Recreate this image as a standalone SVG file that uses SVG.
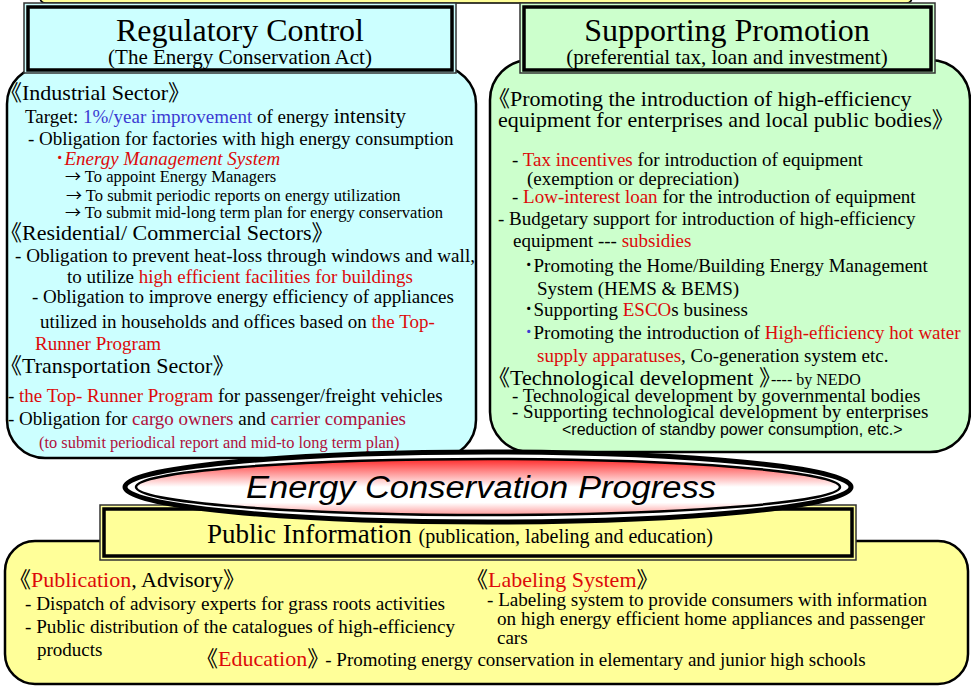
<svg xmlns="http://www.w3.org/2000/svg" width="971" height="687" viewBox="0 0 971 687">
  <defs>
    <linearGradient id="glow" x1="0" y1="0" x2="0" y2="1">
      <stop offset="0" stop-color="#FF2A2A"/>
      <stop offset="0.22" stop-color="#FF8A8A"/>
      <stop offset="0.5" stop-color="#FFFFFF"/>
      <stop offset="0.78" stop-color="#FFFFFF"/>
      <stop offset="1" stop-color="#FF9A9A"/>
    </linearGradient>
  </defs>
  <style>
    .t { font-family: "Liberation Serif", "Noto Sans CJK JP", serif; fill: #000; }
    .h { font-size: 22px; }
    .b { font-size: 19px; }
    .m { font-size: 16.5px; }
    .arr { font-family: "Noto Sans CJK JP", sans-serif; font-size: 16px; }
    .red { fill: #DD0A0A; }
    .crim { fill: #B0103C; }
    .blue { fill: #3B3BD2; }
    .box { stroke: #000; stroke-width: 2.5; }
    .hdr-out { stroke: #333; stroke-width: 1.5; }
    .hdr-in { stroke: #000; stroke-width: 3.5; fill: none; }
  </style>

  <rect width="971" height="687" fill="#FFFFFF"/>

  <!-- title strip along the top edge -->
  <g id="title-strip">
    <path d="M40,-20 H912 V-3 Q912,3 906,3 H46 Q40,3 40,-3 Z" fill="#FFFF99" stroke="#000" stroke-width="1.5"/>
  </g>

  <!-- Regulatory Control -->
  <g id="regulatory">
    <rect class="box" x="7" y="66" width="469" height="392" rx="38" fill="#CCFFFF"/>
    <rect class="hdr-out" x="24" y="3" width="432" height="70" fill="#CCFFFF"/>
    <rect class="hdr-in" x="28" y="7" width="424" height="63"/>
    <text class="t" x="240" y="41" font-size="32" text-anchor="middle">Regulatory Control</text>
    <text class="t" x="240" y="64" font-size="21" text-anchor="middle">(The Energy Conservation Act)</text>

    <text class="t h" x="0" y="100">《Industrial Sector》</text>
    <text class="t b" x="25" y="123">Target: <tspan class="blue">1%/year improvement</tspan> of energy <tspan font-size="21">intensity</tspan></text>
    <text class="t b" x="28" y="145">- Obligation for factories with high energy consumption</text>
    <text class="t b red" x="55" y="165">･<tspan font-style="italic">Energy Management System</tspan></text>
    <text class="t m" x="65" y="182"><tspan class="arr">→</tspan> To appoint Energy Managers</text>
    <text class="t m" x="66" y="201"><tspan class="arr">→</tspan> To submit periodic reports on energy utilization</text>
    <text class="t m" x="65" y="218"><tspan class="arr">→</tspan> To submit mid-long term plan for energy conservation</text>

    <text class="t h" x="0" y="240">《Residential/ Commercial Sectors》</text>
    <text class="t b" x="15" y="262" textLength="460" lengthAdjust="spacingAndGlyphs">- Obligation to prevent heat-loss through windows and wall,</text>
    <text class="t b" x="67" y="283">to utilize <tspan class="red">high efficient facilities for buildings</tspan></text>
    <text class="t b" x="32" y="303">- Obligation to improve energy efficiency of appliances</text>
    <text class="t b" x="40" y="328">utilized in households and offices  based on <tspan class="red">the Top-</tspan></text>
    <text class="t b red" x="35" y="350">Runner Program</text>

    <text class="t h" x="0" y="373">《Transportation Sector》</text>
    <text class="t b" x="8" y="402">- <tspan class="red">the Top- Runner Program</tspan>  for passenger/freight vehicles</text>
    <text class="t b" x="8" y="425">- Obligation for <tspan class="crim">cargo owners</tspan> and <tspan class="crim">carrier companies</tspan></text>
    <text class="t crim" x="39" y="448" font-size="16.4">(to submit periodical report and mid-to long term plan)</text>
  </g>

  <!-- Supporting Promotion -->
  <g id="supporting">
    <rect class="box" x="490" y="60" width="480" height="392" rx="40" fill="#CCFFCC"/>
    <rect class="hdr-out" x="520" y="3" width="415" height="70" fill="#CCFFCC"/>
    <rect class="hdr-in" x="524" y="7" width="407" height="63"/>
    <text class="t" x="727" y="41" font-size="32" text-anchor="middle">Supporting Promotion</text>
    <text class="t" x="727" y="64" font-size="21" text-anchor="middle">(preferential tax, loan and investment)</text>

    <text class="t h" x="488" y="106">《Promoting the introduction of high-efficiency</text>
    <text class="t h" x="498" y="127">equipment for enterprises and local public bodies》</text>
    <text class="t b" x="512" y="166">- <tspan class="red">Tax incentives</tspan> for introduction of equipment</text>
    <text class="t b" x="527" y="185">(exemption or depreciation)</text>
    <text class="t b" x="512" y="203">- <tspan class="red">Low-interest loan</tspan> for the introduction of equipment</text>
    <text class="t b" x="498" y="225">- Budgetary support for introduction of high-efficiency</text>
    <text class="t b" x="513" y="247">equipment --- <tspan class="red">subsidies</tspan></text>
    <text class="t b" x="524" y="272">･Promoting the Home/Building Energy Management</text>
    <text class="t b" x="537" y="295">System (HEMS &amp; BEMS)</text>
    <text class="t b" x="524" y="316">･Supporting <tspan class="red">ESCO</tspan>s business</text>
    <text class="t b" x="524" y="339"><tspan class="blue">･</tspan>Promoting the introduction of <tspan class="red">High-efficiency hot water</tspan></text>
    <text class="t b" x="537" y="362"><tspan class="red">supply apparatuses</tspan>, Co-generation system etc.</text>
    <text class="t h" x="488" y="385">《Technological development 》<tspan font-size="16" dx="-10">---- by NEDO</tspan></text>
    <text class="t b" x="512" y="402">- Technological development by governmental bodies</text>
    <text class="t b" x="512" y="418">- Supporting technological development by enterprises</text>
    <text x="562" y="435" font-family="'Liberation Sans', sans-serif" font-size="16" fill="#000">&lt;reduction of standby power consumption, etc.&gt;</text>
  </g>

  <!-- Public Information -->
  <g id="public-info">
    <rect class="box" x="5" y="541" width="963" height="143" rx="30" fill="#FFFF99"/>
    <rect class="hdr-out" x="100" y="505" width="756" height="55" fill="#FFFF99"/>
    <rect class="hdr-in" x="104" y="509" width="748" height="47"/>
    <text class="t" x="207" y="543" font-size="27">Public Information <tspan font-size="20">(publication, labeling and education)</tspan></text>

    <text class="t h" x="9" y="587">《<tspan class="red">Publication</tspan>, Advisory》</text>
    <text class="t b" x="25" y="610" textLength="420" lengthAdjust="spacingAndGlyphs">- Dispatch of advisory experts for grass roots activities</text>
    <text class="t b" x="25" y="633" textLength="430" lengthAdjust="spacingAndGlyphs">- Public distribution of the catalogues of high-efficiency</text>
    <text class="t b" x="37" y="656">products</text>

    <text class="t h" x="466" y="587">《<tspan class="red">Labeling System</tspan>》</text>
    <text class="t b" x="487" y="606" textLength="440" lengthAdjust="spacingAndGlyphs">- Labeling system to provide consumers with information</text>
    <text class="t b" x="497" y="625" textLength="428" lengthAdjust="spacingAndGlyphs">on high energy efficient home appliances and passenger</text>
    <text class="t b" x="497" y="644">cars</text>

    <text class="t h" x="196" y="666">《<tspan class="red">Education</tspan>》<tspan font-size="19" dx="-4">- Promoting energy conservation in elementary and junior high schools</tspan></text>
  </g>

  <!-- central banner -->
  <g id="progress">
    <ellipse cx="488" cy="487" rx="363" ry="35" fill="#FFFFFF" stroke="#000" stroke-width="5"/>
    <ellipse cx="488" cy="487" rx="352" ry="28" fill="url(#glow)" stroke="#000" stroke-width="2.5"/>
    <text x="481" y="498" text-anchor="middle" font-family="'Liberation Sans', sans-serif" font-style="italic" font-size="31" textLength="470" lengthAdjust="spacingAndGlyphs" fill="#000">Energy Conservation Progress</text>
  </g>
</svg>
